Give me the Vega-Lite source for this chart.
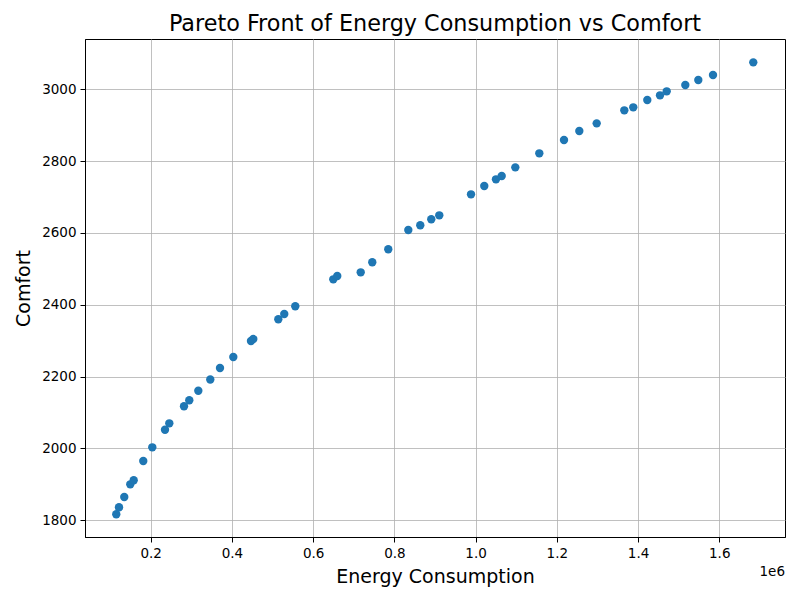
{
  "$schema": "https://vega.github.io/schema/vega-lite/v6.json",
  "width": 700,
  "height": 498,
  "autosize": {"type": "none"},
  "padding": {"left": 85, "top": 39, "right": 15, "bottom": 63},
  "background": "white",
  "config": {
    "font": "DejaVu Sans",
    "view": {"stroke": "black", "strokeWidth": 1},
    "axis": {
      "grid": true,
      "gridColor": "#b0b0b0",
      "gridWidth": 0.8,
      "domainColor": "black",
      "domainWidth": 1,
      "tickColor": "black",
      "tickSize": 5,
      "tickWidth": 1,
      "labelColor": "black",
      "labelFontSize": 13.5,
      "labelPadding": 4,
      "titleColor": "black",
      "titleFontSize": 19,
      "titleFontWeight": "normal"
    }
  },
  "title": {
    "text": "Pareto Front of Energy Consumption vs Comfort",
    "fontSize": 22.3,
    "fontWeight": "normal",
    "color": "black",
    "font": "DejaVu Sans",
    "offset": 4,
    "anchor": "middle"
  },
  "layer": [
    {
      "data": {
        "values": [
          {"energy": 115200, "comfort": 1816.7},
          {"energy": 121900, "comfort": 1836.2},
          {"energy": 134900, "comfort": 1864.9},
          {"energy": 149700, "comfort": 1900.2},
          {"energy": 158100, "comfort": 1911.4},
          {"energy": 181700, "comfort": 1965.1},
          {"energy": 203900, "comfort": 2003.2},
          {"energy": 235200, "comfort": 2052.2},
          {"energy": 245800, "comfort": 2070.0},
          {"energy": 282000, "comfort": 2117.4},
          {"energy": 295000, "comfort": 2134.1},
          {"energy": 317200, "comfort": 2160.8},
          {"energy": 346700, "comfort": 2192.0},
          {"energy": 370600, "comfort": 2224.0},
          {"energy": 403400, "comfort": 2254.6},
          {"energy": 446900, "comfort": 2299.2},
          {"energy": 452600, "comfort": 2304.7},
          {"energy": 514200, "comfort": 2359.6},
          {"energy": 528900, "comfort": 2374.3},
          {"energy": 556000, "comfort": 2395.8},
          {"energy": 649600, "comfort": 2470.9},
          {"energy": 659400, "comfort": 2480.1},
          {"energy": 717100, "comfort": 2490.4},
          {"energy": 745600, "comfort": 2518.3},
          {"energy": 785000, "comfort": 2554.5},
          {"energy": 834300, "comfort": 2608.2},
          {"energy": 863800, "comfort": 2621.3},
          {"energy": 890900, "comfort": 2638.0},
          {"energy": 910600, "comfort": 2649.1},
          {"energy": 988700, "comfort": 2707.6},
          {"energy": 1021400, "comfort": 2730.7},
          {"energy": 1050200, "comfort": 2749.3},
          {"energy": 1064300, "comfort": 2758.5},
          {"energy": 1097800, "comfort": 2782.7},
          {"energy": 1156900, "comfort": 2821.7},
          {"energy": 1217700, "comfort": 2858.7},
          {"energy": 1255400, "comfort": 2883.8},
          {"energy": 1298200, "comfort": 2905.2},
          {"energy": 1366200, "comfort": 2941.4},
          {"energy": 1388300, "comfort": 2949.8},
          {"energy": 1422800, "comfort": 2970.1},
          {"energy": 1454100, "comfort": 2983.2},
          {"energy": 1470600, "comfort": 2994.3},
          {"energy": 1516400, "comfort": 3011.9},
          {"energy": 1548400, "comfort": 3025.8},
          {"energy": 1584600, "comfort": 3039.7},
          {"energy": 1683800, "comfort": 3075.0}
        ]
      },
      "mark": {"type": "point", "filled": true, "color": "#1f77b4", "opacity": 1, "size": 70, "strokeWidth": 0},
      "encoding": {
        "x": {
          "field": "energy",
          "type": "quantitative",
          "scale": {"domain": [38200, 1761900], "nice": false, "zero": false},
          "axis": {
            "title": "Energy Consumption",
            "values": [200000, 400000, 600000, 800000, 1000000, 1200000, 1400000, 1600000],
            "labelExpr": "format(datum.value / 1000000, '.1f')",
            "titlePadding": 8
          }
        },
        "y": {
          "field": "comfort",
          "type": "quantitative",
          "scale": {"domain": [1753.5, 3140], "nice": false, "zero": false},
          "axis": {
            "title": "Comfort",
            "values": [1800, 2000, 2200, 2400, 2600, 2800, 3000],
            "format": "d",
            "titlePadding": 8
          }
        }
      }
    },
    {
      "data": {"values": [{"label": "1e6"}]},
      "mark": {"type": "text", "align": "right", "baseline": "top", "dy": 28, "fontSize": 13.5, "fontWeight": "normal", "color": "black", "font": "DejaVu Sans"},
      "encoding": {
        "text": {"field": "label"},
        "x": {"datum": 1761900, "type": "quantitative"},
        "y": {"datum": 1753.5, "type": "quantitative"}
      }
    }
  ]
}
